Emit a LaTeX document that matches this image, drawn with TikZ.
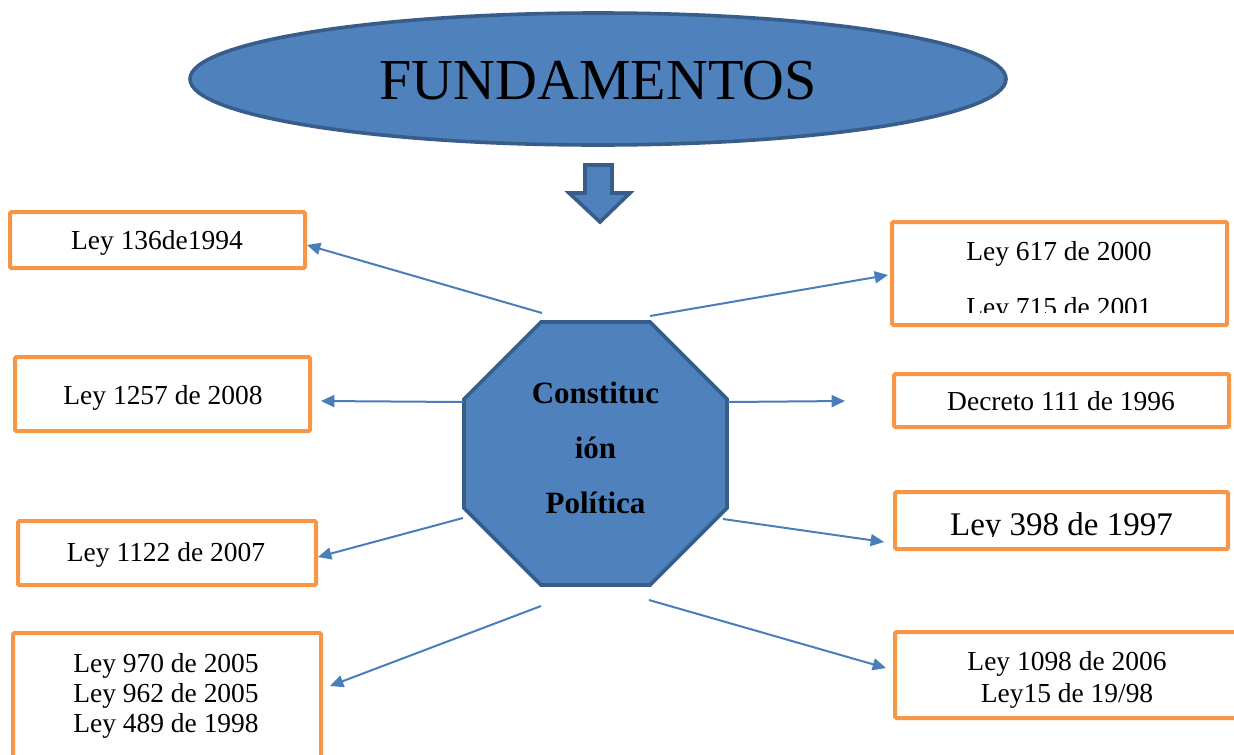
\documentclass[tikz,border=0pt]{standalone}
\usepackage{fontspec}
\setmainfont{Liberation Serif}
\usetikzlibrary{shapes.geometric,arrows.meta}
\definecolor{ofill}{HTML}{4F81BD}
\definecolor{oborder}{HTML}{385D8A}
\definecolor{oline}{HTML}{4A7EBB}
\definecolor{oorange}{HTML}{F79646}
\begin{document}
\begin{tikzpicture}[x=0.75pt,y=-0.75pt,
  blueshape/.style={fill=ofill,draw=oborder,line width=2.7pt},
  lawbox/.style={draw=oorange,line width=3pt,rounded corners=1pt,fill=white,inner sep=0pt},
  lawtext/.style={font=\fontsize{20.6pt}{22.5pt}\selectfont,anchor=base,inner sep=0pt,align=center},
  link/.style={draw=oline,line width=1.5pt,-{Triangle[length=10pt,width=9pt]}}]
\clip (0,0) rectangle (1234,754);
\fill[white] (0,0) rectangle (1234,754);
% title
\node[blueshape,ellipse,minimum width=612pt,minimum height=99pt,inner sep=0pt] (title) at (598,79) {};
\node[font=\fontsize{43.5pt}{50pt}\selectfont,anchor=base,inner sep=0pt] (titletext) at (598,99) {FUNDAMENTOS};
% down arrow
\draw[blueshape,line width=2.7pt,line join=miter] (585,165) -- (612,165) -- (612,193) -- (630,193) -- (600,222) -- (569,193) -- (585,193) -- cycle;
% octagon
\node[blueshape,regular polygon,regular polygon sides=8,minimum size=213.5pt,inner sep=0pt] (oct) at (595.5,453.5) {};
\node[font=\bfseries\fontsize{23.25pt}{41.25pt}\selectfont,align=center,inner sep=0pt,anchor=base] (octtext) at (595.5,513) {Constituc\\ión\\Política};
% boxes
\node[lawbox,minimum width=221.25pt,minimum height=42pt] (b1) at (157.5,240) {};
\node[lawbox,minimum width=221.25pt,minimum height=55.5pt] (b2) at (162.5,394) {};
\node[lawbox,minimum width=223.5pt,minimum height=48pt] (b3) at (167,553) {};
\node[lawbox,minimum width=231pt,minimum height=117.75pt] (b4) at (167,711.5) {};
\node[lawbox,minimum width=251.25pt,minimum height=77.25pt] (b5) at (1059.5,273.5) {};
\node[lawbox,minimum width=251.25pt,minimum height=39.75pt] (b6) at (1061.5,400.5) {};
\node[lawbox,minimum width=249.75pt,minimum height=42.75pt] (b7) at (1061.5,520.5) {};
\node[lawbox,minimum width=273.75pt,minimum height=64.5pt] (b8) at (1077.5,675) {};
% texts
\node[lawtext] (t1) at (157,249) {Ley 136de1994};
\node[lawtext] (t2) at (163,404) {Ley 1257 de 2008};
\node[lawtext] (t3) at (166,561) {Ley 1122 de 2007};
\node[lawtext] (t4) at (166,732) {Ley 970 de 2005\\Ley 962 de 2005\\Ley 489 de 1998};
\begin{scope}
\clip (894,224) rectangle (1225,312);
\node[lawtext,font=\fontsize{20.6pt}{42pt}\selectfont] (t5) at (1059,316) {Ley 617 de 2000\\Ley 715 de 2001};
\end{scope}
\node[lawtext] (t6) at (1061,410) {Decreto 111 de 1996};
\begin{scope}
\clip (897,494) rectangle (1226,536);
\node[lawtext,font=\fontsize{24.75pt}{28pt}\selectfont] (t7) at (1061.5,535) {Ley 398 de 1997};
\end{scope}
\node[lawtext,font=\fontsize{20.6pt}{24pt}\selectfont] (t8) at (1067,702) {Ley 1098 de 2006\\Ley15 de 19/98};
% connectors
\coordinate (s1) at (542,313); \coordinate (e1) at (307,245);
\coordinate (s2) at (650,316); \coordinate (e2) at (888,275);
\coordinate (s3) at (463,402); \coordinate (e3) at (321,401);
\coordinate (s4) at (728,402); \coordinate (e4) at (845,401);
\coordinate (s5) at (463,518); \coordinate (e5) at (318,557);
\coordinate (s6) at (723,519); \coordinate (e6) at (884,542);
\coordinate (s7) at (541,606); \coordinate (e7) at (330,686);
\coordinate (s8) at (649,600); \coordinate (e8) at (886,668);
\draw[link] (s1) -- (e1);
\draw[link] (s2) -- (e2);
\draw[link] (s3) -- (e3);
\draw[link] (s4) -- (e4);
\draw[link] (s5) -- (e5);
\draw[link] (s6) -- (e6);
\draw[link] (s7) -- (e7);
\draw[link] (s8) -- (e8);
\end{tikzpicture}
\end{document}
